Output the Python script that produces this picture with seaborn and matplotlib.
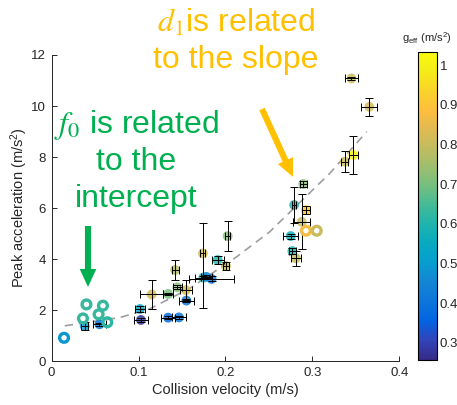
import numpy as np
import pandas as pd
import matplotlib
matplotlib.use("Agg")
import matplotlib.pyplot as plt
import seaborn as sns
from matplotlib.colors import LinearSegmentedColormap, Normalize
from matplotlib.cm import ScalarMappable

# ---------------- data ----------------
filled_x = [0.038, 0.055, 0.1016, 0.1027, 0.134, 0.1465, 0.115, 0.134, 0.142, 0.1446,
            0.1545, 0.155, 0.174, 0.2025, 0.191, 0.2006, 0.184, 0.1745, 0.178, 0.2896,
            0.279, 0.2926, 0.2877, 0.275, 0.277, 0.281, 0.345, 0.3655, 0.3375, 0.347]
filled_y = [1.37, 1.44, 2.04, 1.61, 1.70, 1.71, 2.61, 2.63, 3.57, 2.89,
            2.78, 2.37, 4.22, 4.90, 3.96, 3.73, 3.22, 3.27, 3.30, 6.94,
            6.12, 5.92, 5.46, 4.90, 4.31, 4.03, 11.08, 9.97, 7.82, 8.08]
filled_g = [0.50, 0.40, 0.53, 0.28, 0.37, 0.40, 0.82, 0.70, 0.78, 0.72,
            0.82, 0.40, 0.82, 0.72, 0.60, 0.80, 0.40, 0.62, 0.45, 0.72,
            0.60, 0.90, 0.80, 0.58, 0.60, 0.80, 0.80, 0.82, 0.80, 1.00]
x_err = [0.004, 0.008, 0.006, 0.008, 0.008, 0.008, 0.013, 0.006, 0.004, 0.005,
         0.007, 0.009, 0.003, 0.003, 0.007, 0.004, 0.026, 0.010, 0.006, 0.004,
         0.002, 0.005, 0.010, 0.009, 0.004, 0.006, 0.008, 0.009, 0.004, 0.005]
y_err_lo = [0.15, 0.05, 0.12, 0.08, 0.06, 0.06, 0.57, 0.05, 0.40, 0.08,
            0.40, 0.05, 2.15, 0.60, 0.15, 0.15, 0.10, 0.05, 0.06, 0.10,
            0.69, 0.15, 1.08, 0.10, 0.12, 0.30, 0.06, 0.36, 0.41, 0.76]
y_err_hi = [0.15, 0.05, 0.12, 0.08, 0.06, 0.06, 0.57, 0.05, 0.40, 0.08,
            0.40, 0.05, 1.18, 0.60, 0.15, 0.15, 0.10, 0.05, 0.06, 0.10,
            0.69, 0.15, 1.08, 0.10, 0.12, 0.30, 0.06, 0.36, 0.41, 0.76]

open_x = [0.0142, 0.040, 0.059, 0.036, 0.054, 0.064, 0.2926, 0.305]
open_y = [0.91, 2.22, 2.17, 1.67, 1.83, 1.52, 5.11, 5.11]
open_g = [0.49, 0.63, 0.63, 0.63, 0.63, 0.62, 0.87, 0.80]

fit_x = [0.015, 0.079, 0.113, 0.159, 0.213, 0.251, 0.320, 0.3625]
fit_y = [1.38, 1.71, 2.05, 2.85, 4.09, 5.07, 7.36, 8.99]

x_ticks = [0, 0.1, 0.2, 0.3, 0.4]
x_tick_labels = ["0", "0.1", "0.2", "0.3", "0.4"]
y_ticks = [0, 2, 4, 6, 8, 10, 12]
cb_ticks = [0.3, 0.4, 0.5, 0.6, 0.7, 0.8, 0.9, 1.0]
cb_tick_labels = ["0.3", "0.4", "0.5", "0.6", "0.7", "0.8", "0.9", "1"]

# ---------------- style ----------------
sns.set_style("ticks")
plt.rcParams["font.family"] = ["Liberation Sans", "DejaVu Sans"]
plt.rcParams["mathtext.fontset"] = "custom"
plt.rcParams["mathtext.rm"] = "Liberation Sans"
plt.rcParams["mathtext.it"] = "Liberation Sans:italic"
plt.rcParams["mathtext.sf"] = "Liberation Sans"
TXT = (0.15, 0.15, 0.15)

parula_anchors = [
    (0.2081, 0.1663, 0.5292), (0.1959, 0.2645, 0.7279), (0.0117, 0.3875, 0.8820),
    (0.0498, 0.4586, 0.8641), (0.0793, 0.5200, 0.8312), (0.0265, 0.6137, 0.8135),
    (0.0267, 0.6642, 0.7607), (0.1133, 0.7015, 0.6859), (0.2586, 0.7317, 0.5954),
    (0.4420, 0.7481, 0.5033), (0.6099, 0.7473, 0.4337), (0.7525, 0.7384, 0.3768),
    (0.8824, 0.7274, 0.3217), (0.9937, 0.7455, 0.2403), (0.9788, 0.8271, 0.1633),
    (0.9598, 0.9218, 0.0948), (0.9763, 0.9831, 0.0538)]
cmap = LinearSegmentedColormap.from_list("parula", parula_anchors)
vmin, vmax = 0.257, 1.033
norm = Normalize(vmin, vmax)

fig = plt.figure(figsize=(4.57, 4.05), dpi=100)
ax = fig.add_axes([0.1131, 0.1086, 0.7606, 0.7556])

df = pd.DataFrame({"x": filled_x, "y": filled_y, "g": filled_g})
dfo = pd.DataFrame({"x": open_x, "y": open_y, "g": open_g})
dff = pd.DataFrame({"x": fit_x, "y": fit_y})

# fit line
sns.lineplot(data=dff, x="x", y="y", ax=ax, color=(0.62, 0.62, 0.62), lw=1.2,
             dashes=False, sort=False, zorder=1)
ax.lines[-1].set_dashes([5, 3.5])

# filled markers
sns.scatterplot(data=df, x="x", y="y", hue="g", palette=cmap, hue_norm=norm,
                s=50, alpha=0.85, edgecolor="none", legend=False, ax=ax, zorder=2)

# error bars
ax.errorbar(df["x"], df["y"], xerr=x_err, yerr=[y_err_lo, y_err_hi], fmt="none",
            ecolor="black", elinewidth=0.7, capsize=3.2, capthick=0.7, zorder=3)

# open markers
sns.scatterplot(data=dfo, x="x", y="y", hue="g", palette=cmap, hue_norm=norm,
                s=40, legend=False, ax=ax, zorder=4)
pts = ax.collections[-1]
fc = pts.get_facecolors()
pts.set_edgecolors(fc)
pts.set_facecolors("none")
pts.set_linewidth(2.4)

ax.set_xlim(0, 0.4)
ax.set_ylim(0, 12)
ax.set_xticks(x_ticks)
ax.set_xticklabels(x_tick_labels)
ax.set_yticks(y_ticks)
ax.tick_params(direction="in", length=3.5, width=0.7, colors=TXT, labelsize=9.5, pad=4)
for s in ["top", "right"]:
    ax.spines[s].set_visible(False)
for s in ["left", "bottom"]:
    ax.spines[s].set_color(TXT)
    ax.spines[s].set_linewidth(0.7)
ax.set_xlabel("Collision velocity (m/s)", fontsize=10.5, color=TXT, labelpad=3)
ax.set_ylabel(r"Peak acceleration (m/s$^\mathrm{2}$)", fontsize=10.5, color=TXT, labelpad=1)

# colorbar
cax = fig.add_axes([0.9147, 0.111, 0.0416, 0.7605])
cb = fig.colorbar(ScalarMappable(norm=norm, cmap=cmap), cax=cax)
cb.set_ticks(cb_ticks)
cb.set_ticklabels(cb_tick_labels)
cax.tick_params(direction="in", length=3, width=0.6, colors=TXT, labelsize=9.5, pad=2)
cb.outline.set_edgecolor("black")
cb.outline.set_linewidth(0.8)
fig.text(427 / 457, 1 - 38 / 405, r"g$_\mathrm{eff}$ (m/s$^\mathrm{2}$)", ha="center",
         va="center", fontsize=8, color=TXT)

# annotations
GREEN = "#00B050"
ORANGE = "#FFC000"
fs = 23
fig.text(136 / 457, 1 - 133 / 405, r"$f_0$ is related", ha="center", va="baseline",
         fontsize=fs, color=GREEN, math_fontfamily="stix")
fig.text(136 / 457, 1 - 170 / 405, "to the", ha="center", va="baseline",
         fontsize=fs, color=GREEN)
fig.text(136 / 457, 1 - 207 / 405, "intercept", ha="center", va="baseline",
         fontsize=fs, color=GREEN)
fig.text(236 / 457, 1 - 32 / 405, r"$d_1$is related", ha="center", va="baseline",
         fontsize=fs, color=ORANGE, math_fontfamily="stix")
fig.text(236 / 457, 1 - 68 / 405, "to the slope", ha="center", va="baseline",
         fontsize=fs, color=ORANGE)

arrow_style = "simple,head_length=0.65,head_width=0.6,tail_width=0.22"
ax.annotate("", xy=(88, 405 - 287), xytext=(88, 405 - 226), xycoords="figure pixels",
            textcoords="figure pixels",
            arrowprops=dict(arrowstyle=arrow_style, mutation_scale=20, fc=GREEN,
                            ec="none", shrinkA=0, shrinkB=0))
ax.annotate("", xy=(293, 405 - 177), xytext=(262, 405 - 109), xycoords="figure pixels",
            textcoords="figure pixels",
            arrowprops=dict(arrowstyle=arrow_style, mutation_scale=20, fc=ORANGE,
                            ec="none", shrinkA=0, shrinkB=0))

fig.savefig("out.png", dpi=100)
